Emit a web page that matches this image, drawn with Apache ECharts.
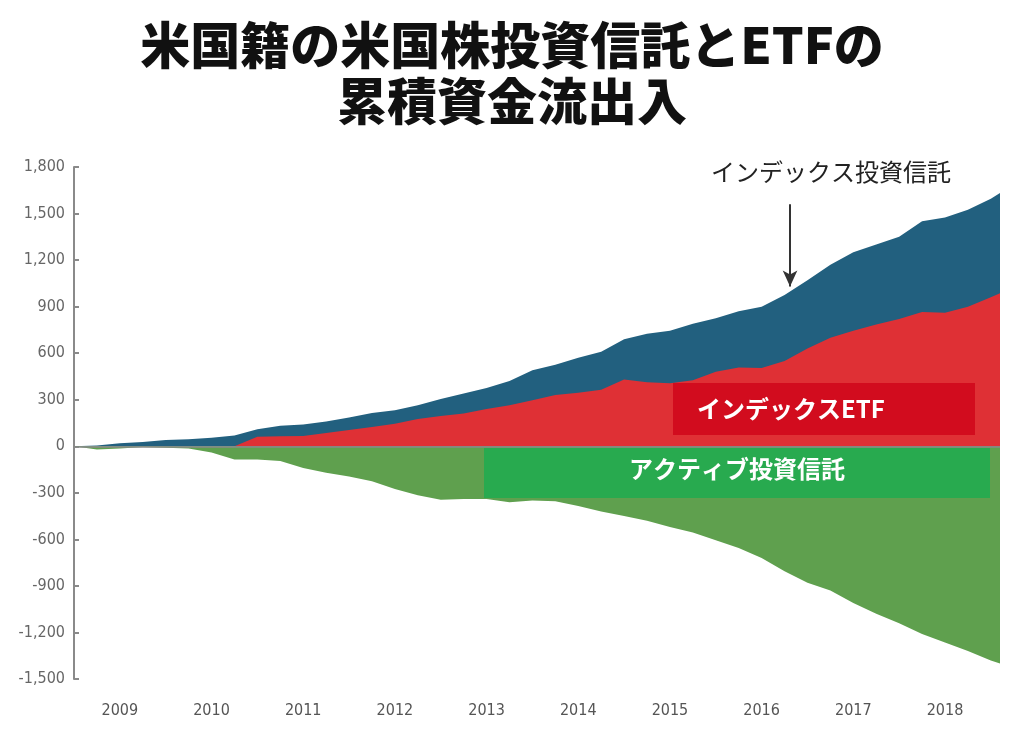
<!DOCTYPE html>
<html><head><meta charset="utf-8">
<script src="https://cdn.jsdelivr.net/npm/echarts@6/dist/echarts.min.js"></script>
<style>html,body{margin:0;padding:0;background:#fff}#c{width:1024px;height:747px}</style>
</head><body><div id="c"></div>
<script>
// time in decimal years (quarterly + final point)
const times = [2009.0,2009.25,2009.5,2009.75,2010.0,2010.25,2010.5,2010.75,2011.0,2011.25,2011.5,2011.75,
  2012.0,2012.25,2012.5,2012.75,2013.0,2013.25,2013.5,2013.75,2014.0,2014.25,2014.5,2014.75,
  2015.0,2015.25,2015.5,2015.75,2016.0,2016.25,2016.5,2016.75,2017.0,2017.25,2017.5,2017.75,
  2018.0,2018.25,2018.5,2018.75,2019.0,2019.1];
// index ETF cumulative flows
const etf = [0,0,0,0,0,0,0,0,62,64,66,85,
  105,125,145,175,195,212,240,265,297,330,345,365,
  430,413,406,425,480,508,505,550,630,700,745,785,
  820,865,860,900,960,987];
// index mutual funds cumulative flows (stacked above ETF)
const indexMF = [0,5,20,28,40,45,55,70,48,69,74,75,
  80,90,87,90,110,128,135,155,193,195,225,245,
  260,312,339,365,345,362,395,425,440,470,505,515,
  530,585,615,625,635,645];
// active mutual funds cumulative flows
const active = [0,-20,-15,-5,-10,-15,-40,-85,-85,-95,-140,-170,
  -195,-225,-275,-315,-345,-340,-340,-360,-350,-355,-385,-420,
  -450,-480,-520,-555,-605,-655,-720,-805,-880,-930,-1010,-1080,
  -1140,-1210,-1265,-1320,-1380,-1400];
const yearLabels = ['2009','2010','2011','2012','2013','2014','2015','2016','2017','2018'];
const yTicks = {min:-1500, max:1800, interval:300};

const pair = arr => times.map((t,i)=>[t, arr[i]]);
// stacked top of index mutual funds = ETF + index MF
const indexTop = times.map((t,i)=>[t, etf[i] + indexMF[i]]);
const axisFont = "'Liberation Sans Narrow','DejaVu Sans Condensed','Roboto Condensed',sans-serif";

const chart = echarts.init(document.getElementById('c'), null, {renderer:'canvas'});
chart.setOption({
  animation:false,
  backgroundColor:'#fff',
  title:{
    text:'米国籍の米国株投資信託とETFの\n累積資金流出入',
    left:'center', top:12,
    textStyle:{fontFamily:"'Noto Sans CJK JP',sans-serif", fontWeight:900, fontSize:50, lineHeight:56, color:'#111'}
  },
  grid:{left:74, right:24, top:167, bottom:68, containLabel:false},
  xAxis:{
    type:'value', min:2009, max:2019.1, interval:0.5,
    axisLine:{show:false}, axisTick:{show:false}, splitLine:{show:false},
    axisLabel:{
      margin:24, color:'#555', fontSize:16, fontFamily:axisFont, showMaxLabel:false, showMinLabel:false,
      formatter:v=>{ const f = Math.floor(v); return (Math.abs(v-f-0.5)<1e-6 && yearLabels.indexOf(String(f))>=0) ? String(f) : ''; }
    }
  },
  yAxis:{
    type:'value', min:yTicks.min, max:yTicks.max, interval:yTicks.interval,
    axisLine:{show:true, onZero:false, lineStyle:{color:'#8a8a8a', width:2}},
    axisTick:{show:true, inside:true, length:5, lineStyle:{color:'#8a8a8a', width:2}},
    splitLine:{show:false},
    axisLabel:{margin:9, color:'#666', fontSize:16, fontFamily:axisFont,
      formatter:v=>v.toLocaleString('en-US')}
  },
  series:[
    {name:'アクティブ投資信託', type:'line', data:pair(active), symbol:'none',
      lineStyle:{width:0}, areaStyle:{color:'#5fa04e', opacity:1}, z:2,
      markLine:{silent:true, symbol:'none', label:{show:false},
        lineStyle:{color:'#888', width:1.5, type:'solid'}, data:[{yAxis:0}]}
    },
    {name:'インデックス投資信託', type:'line', data:indexTop, symbol:'none',
      lineStyle:{width:0}, areaStyle:{color:'#22607f', opacity:1}, z:2,
      markLine:{silent:true, symbol:['none','arrow'], symbolSize:[11,16], label:{show:false},
        lineStyle:{color:'#333', width:2, type:'solid'},
        data:[[{coord:[2016.81,1560]},{coord:[2016.81,1030]}]]}
    },
    {name:'インデックスETF', type:'line', data:pair(etf), symbol:'none',
      lineStyle:{width:0}, areaStyle:{color:'#df3035', opacity:1}, z:3}
  ],
  graphic:[
    {type:'text', left:711, top:160, z:10,
      style:{text:'インデックス投資信託', font:"24px 'Noto Sans CJK JP',sans-serif", fill:'#222'}},
    {type:'rect', shape:{x:673, y:383, width:302, height:52}, style:{fill:'#d20c1e'}, z:10},
    {type:'text', x:791, y:409, z:11,
      style:{text:'インデックスETF', font:"bold 24px 'Noto Sans CJK JP',sans-serif", fill:'#fff', textAlign:'center', textVerticalAlign:'middle'}},
    {type:'rect', shape:{x:484, y:448, width:506, height:50}, style:{fill:'#28aa4f'}, z:10},
    {type:'text', x:737, y:469, z:11,
      style:{text:'アクティブ投資信託', font:"bold 24px 'Noto Sans CJK JP',sans-serif", fill:'#fff', textAlign:'center', textVerticalAlign:'middle'}}
  ]
});
</script></body></html>
